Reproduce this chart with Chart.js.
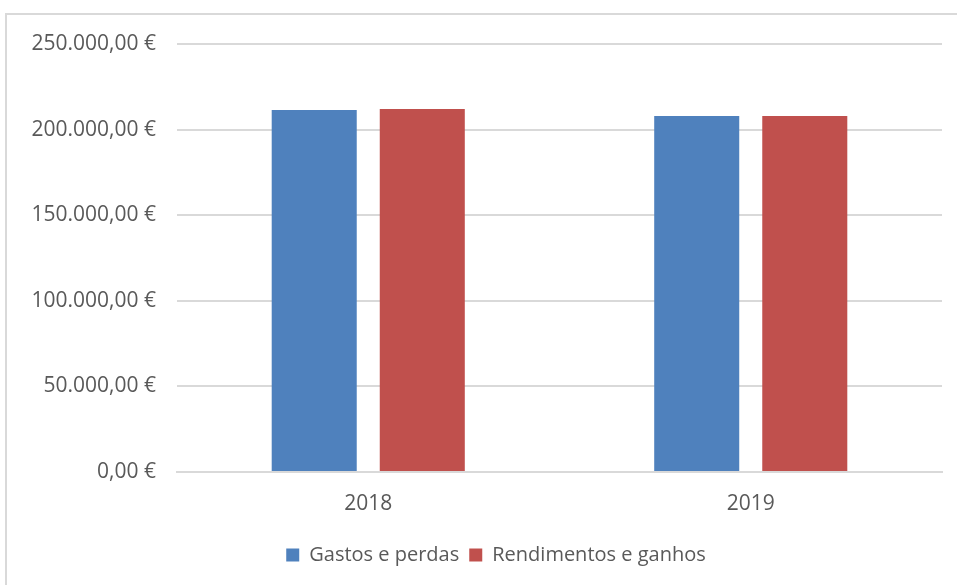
<!DOCTYPE html>
<html>
<head>
<meta charset="utf-8">
<script src="https://cdn.jsdelivr.net/npm/chart.js@4"></script>
<style>
	body { margin: 0; background: #fff; }
	#frame { position: absolute; left: 5px; top: 13px; width: 1000px; height: 600px; border-left: 2px solid #d9d9d9; border-top: 2px solid #d9d9d9; }
	#wrap { position: absolute; left: 0; top: 0; width: 957px; height: 585px; }
</style>
</head>
<body>
<div id="frame"></div>
<div id="wrap"><canvas id="chart"></canvas></div>
<script>
var years = ['2018', '2019'];
var gastos = [211400, 208000];
var rendimentos = [212000, 208000];

function euro(v) {
	var parts = v.toFixed(2).split('.');
	var intPart = parts[0].replace(/\B(?=(\d{3})+(?!\d))/g, '.');
	return intPart + ',' + parts[1] + ' €';
}

var FONT = 'Open Sans';

var chartdata = {
	labels: years,
	datasets: [
		{
			label: 'Gastos e perdas',
			backgroundColor: '#4F81BD',
			data: gastos
		},
		{
			label: 'Rendimentos e ganhos',
			backgroundColor: '#C0504D',
			data: rendimentos
		}
	]
};

// nudge the legend a bit to the right, like in the original
var legendShift = {
	id: 'legendShift',
	afterLayout: function(chart) {
		if (chart.legend) {
			chart.legend.left += 25;
			chart.legend.right += 25;
		}
	}
};

var ctx = document.getElementById('chart');

var barGraph = new Chart(ctx, {
	type: 'bar',
	data: chartdata,
	plugins: [legendShift],
	options: {
		responsive: true,
		maintainAspectRatio: false,
		animation: false,
		layout: { padding: { left: 0, right: 15, top: 44, bottom: 10 } },
		datasets: { bar: { categoryPercentage: 0.565, barPercentage: 0.787 } },
		plugins: {
			legend: {
				position: 'bottom',
				labels: {
					boxWidth: 13,
					boxHeight: 13,
					padding: 10,
					color: '#595959',
					font: { family: FONT, size: 20 }
				}
			},
			tooltip: { enabled: false }
		},
		scales: {
			x: {
				grid: { display: false, drawTicks: false },
				border: { display: true, color: '#d9d9d9', width: 2 },
				ticks: { color: '#595959', padding: 19, font: { family: FONT, size: 21 } },
				afterFit: function(scale) { scale.height = 63; }
			},
			y: {
				min: 0,
				max: 250000,
				grid: { color: '#d9d9d9', lineWidth: 2, drawTicks: false },
				border: { display: false },
				ticks: {
					stepSize: 50000,
					padding: 21,
					color: '#595959',
					font: { family: FONT, size: 21 },
					callback: function(v) { return euro(v); }
				},
				afterFit: function(scale) { scale.width = 177; }
			}
		}
	}
});
</script>
</body>
</html>
